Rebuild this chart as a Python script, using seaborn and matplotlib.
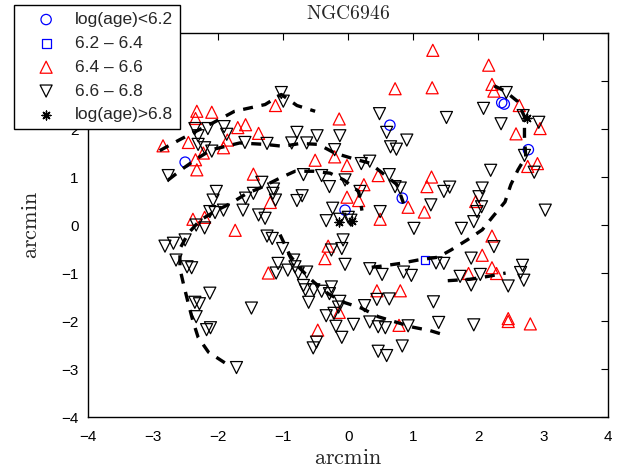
import matplotlib
matplotlib.use("Agg")
import matplotlib.pyplot as plt
import seaborn as sns
import numpy as np

# ---------------- data ----------------
# log(age) < 6.2  (blue circles)
c_x = [2.36, 2.40, 2.77, 0.64, -2.51, -0.05, 0.83]
c_y = [2.55, 2.52, 1.57, 2.08, 1.31, 0.31, 0.56]

# 6.2 - 6.4 (blue square)
s_x = [1.18]
s_y = [-0.73]

# 6.4 - 6.6 (red up-triangles)
u_x = [1.30, 0.72, 1.29, 2.16, 2.21, 2.24, 2.63, 2.95, 2.58, -1.12, -2.33, -2.10,
       -2.35, -1.70, -1.58, -0.14, -2.85, -2.46, -2.23, -1.92, -1.86, -1.38, -0.21,
       -2.35, -2.33, -0.51, -0.02, -1.46, -1.20, -2.39, -2.21, -1.74, 0.46, 0.24,
       -0.02, 0.16, 0.49, 0.92, 1.17, 1.28, 1.21, -0.31, -0.36, -1.23, 0.44, 0.80,
       -0.14, -0.47, 0.78, 2.76, 2.91, 1.96, 2.21, 2.06, 2.21, 1.85, 2.28, 2.46,
       2.46, 2.80]
u_y = [3.64, 2.84, 2.86, 3.33, 2.93, 2.79, 2.49, 2.01, 1.90, 2.49, 2.37, 2.35,
       2.22, 2.03, 2.09, 2.21, 1.65, 1.72, 1.50, 1.61, 1.77, 1.91, 1.42,
       1.36, 1.15, 1.35, 1.24, 1.06, 0.47, 0.12, 0.16, -0.11, 1.03, 0.84,
       0.58, 0.51, 0.12, 0.37, 0.27, 1.00, 0.80, -0.44, -0.70, -1.00, -1.37, -1.37,
       -1.82, -2.19, -2.09, 1.22, 1.28, 0.49, -0.23, -0.63, -0.89, -1.01, -1.01, -1.95,
       -2.01, -2.06]

# 6.6 - 6.8 (black down-triangles)
d_x = [-1.03, -1.00, -2.36, -2.16, -1.91, 0.48, 2.43, 2.08, 1.51, 2.35, 2.69, 2.93,
       2.71, -2.31, -2.31, -2.21, -2.10, -1.87, -1.59, -1.25, -0.87, -0.64, -0.48,
       -0.79, -0.13, -0.21, 0.59, 0.65, 0.74, 0.90, -2.77, 0.20, 0.33, -0.69, -0.41,
       -0.29, -0.05, -1.33, -1.15, -1.16, -1.12, -2.03, -2.08, -1.46, -1.58, -1.62,
       -1.38, -1.28, -0.79, -0.71, -2.13, -2.05, -1.92, -2.34, -2.21, 0.63, 0.18,
       -0.24, -0.34, -0.13, 0.00, 0.04, 0.49, 0.72, 0.80, 1.27, 1.47, 1.56, 1.01,
       1.74, -2.51, -2.69, -2.82, -2.65, -2.48, -2.41, -1.25, -1.17, -1.01, -0.26,
       -0.08, -0.10, -0.05, -0.84, -0.82, -0.93, -1.08, -1.11, -0.77, -0.64, -0.69,
       -0.66, -0.53, -0.41, -0.26, -0.29, -0.61, -2.13, -2.36, -2.29, -2.34, -2.18,
       -2.12, -1.49, -1.72, 0.33, 0.52, 1.35, 1.47, 0.85, 0.97, 1.72, 1.89, 1.89,
       0.44, 0.63, 1.31, -0.13, -0.15, -0.22, -0.34, 0.25, 0.08, -0.19, -0.10,
       -0.49, -0.54, 0.33, 0.46, 0.57, 0.92, 1.39, 0.83, 0.46, 0.59, 2.86, 2.19,
       2.06, 2.01, 2.05, 1.98, 1.93, 3.03, 2.24, 2.68, 2.03, 2.46, 2.65, 2.70, 1.93]
d_y = [2.76, 2.58, 2.01, 2.01, 2.05, 2.32, 2.76, 2.43, 2.24, 2.11, 2.28, 2.14,
       1.45, 1.86, 1.68, 1.61, 1.54, 1.89, 1.72, 1.70, 1.71, 1.71, 1.86,
       1.93, 1.86, 1.57, 1.93, 1.63, 1.58, 1.77, 1.03, 1.28, 1.33, 1.05, 1.03,
       0.80, 0.94, 0.89, 0.75, 0.66, 0.52, 0.70, 0.52, 0.66, 0.56, 0.31,
       0.21, 0.14, 0.51, 0.61, 0.28, 0.26, 0.31, 0.00, -0.06, 1.05, 0.70,
       0.35, 0.09, 0.12, 0.16, 0.10, 0.28, 0.80, 0.77, 0.42, 0.70, 0.79, -0.07,
       -0.07, -0.31, -0.38, -0.44, -0.73, -0.87, -0.89, -0.23, -0.28, -0.49, -0.52,
       -0.31, -0.49, -0.82, -0.73, -0.87, -0.94, -0.80, -1.00, -1.00, -0.98, -1.26,
       -1.35, -1.35, -1.38, -1.29, -1.43, -1.61, -1.42, -1.61, -1.64, -1.91, -2.18,
       -2.14, -1.73, -2.97, -0.91, -1.03, -0.79, -0.80, -0.98, -1.05, -1.07, -1.25, -0.69,
       -1.55, -1.54, -1.60, -1.59, -1.71, -1.84, -1.89, -1.68, -2.07, -2.11, -2.34,
       -2.44, -2.56, -2.02, -2.12, -2.14, -2.10, -2.03, -2.52, -2.63, -2.72, 1.10, 1.14,
       0.77, 0.59, 0.38, 0.28, 0.07, 0.31, -0.45, -0.84, -1.03, -1.27, -0.99, -1.15, -2.08]

# log(age) > 6.8 (asterisks)
a_x = [2.75, -0.15, 0.06]
a_y = [2.22, 0.07, 0.08]

# dashed spiral-arm tracings
armA_x = [-2.90, -2.82, -2.59, -2.39, -2.08, -1.75, -1.28, -1.03, -0.79, -0.51]
armA_y = [1.55, 1.61, 1.78, 1.92, 2.13, 2.37, 2.51, 2.72, 2.49, 2.37]
armB_x = [-2.77, -2.53, -2.31, -2.10, -1.67, -1.28, -1.00, -0.74, -0.46, -0.21, 0.08, 0.33, 0.49, 0.75, 0.85]
armB_y = [0.94, 1.19, 1.40, 1.57, 1.71, 1.68, 1.64, 1.70, 1.68, 1.50, 1.38, 1.29, 1.12, 0.84, 0.45]
armC_x = [-1.90, -2.15, -2.31, -2.39, -2.46, -2.53, -2.59, -2.59, -2.46, -2.28, -2.02, -1.81,
          -1.56, -1.36, -1.05, -0.82, -0.53, -0.28, -0.07, 0.16, 0.21]
armC_y = [-2.87, -2.65, -2.34, -2.00, -1.64, -1.26, -0.91, -0.49, -0.17, 0.10, 0.31, 0.45,
          0.66, 0.77, 0.98, 1.12, 1.12, 1.08, 0.94, 0.70, 0.30]
armD_x = [-1.05, -0.90, -0.74, -0.53, -0.31, -0.07, 0.20, 0.46, 0.75, 1.00, 1.26, 1.50]
armD_y = [-0.20, -0.63, -0.91, -1.19, -1.43, -1.61, -1.73, -1.91, -2.03, -2.13, -2.20, -2.30]
armE_x = [0.36, 0.49, 0.80, 1.07, 1.38, 1.58, 1.83, 2.06, 2.22, 2.41, 2.50, 2.61, 2.73, 2.71, 2.71, 2.60, 2.41, 2.14]
armE_y = [-0.88, -0.86, -0.80, -0.73, -0.67, -0.52, -0.31, -0.10, 0.17, 0.48, 0.84, 1.15, 1.42, 1.84, 2.26, 2.58, 2.79, 2.97]
armF_x = [1.53, 1.87, 2.15, 2.42]
armF_y = [-1.16, -1.13, -1.07, -1.00]

labels = ["log(age)<6.2", "6.2 \u2013 6.4", "6.4 \u2013 6.6", "6.6 \u2013 6.8", "log(age)>6.8"]
xticks = [-4, -3, -2, -1, 0, 1, 2, 3, 4]
yticks = [-4, -3, -2, -1, 0, 1, 2, 3, 4]
# y labels 3 and 4 sit behind the opaque legend in the reference
ytick_labels = ["\u22124", "\u22123", "\u22122", "\u22121", "0", "1", "2", "", ""]

# ---------------- style ----------------
sns.set_style("white")
plt.rcParams.update({
    "font.family": ["Liberation Sans", "DejaVu Sans"],
    "mathtext.fontset": "cm",
    "xtick.direction": "in",
    "ytick.direction": "in",
    "xtick.top": True,
    "ytick.right": True,
    "xtick.major.size": 5,
    "ytick.major.size": 5,
    "xtick.major.width": 0.8,
    "ytick.major.width": 0.8,
    "axes.edgecolor": "black",
    "axes.linewidth": 1.0,
})

fig = plt.figure(figsize=(6.35, 4.72), dpi=100)
ax = fig.add_axes([0.139, 0.1165, 0.819, 0.8135])

handles = {}
sns.scatterplot(x=c_x, y=c_y, marker="o", s=55, facecolors="none", edgecolor="blue",
                linewidth=0.9, ax=ax, zorder=2)
handles[labels[0]] = ax.collections[-1]
sns.scatterplot(x=s_x, y=s_y, marker="s", s=40, facecolors="none", edgecolor="blue",
                linewidth=0.9, ax=ax, zorder=2)
handles[labels[1]] = ax.collections[-1]
sns.scatterplot(x=u_x, y=u_y, marker="^", s=75, facecolors="none", edgecolor="red",
                linewidth=0.9, ax=ax, zorder=2)
handles[labels[2]] = ax.collections[-1]
sns.scatterplot(x=d_x, y=d_y, marker="v", s=75, facecolors="none", edgecolor="black",
                linewidth=0.9, ax=ax, zorder=2)
handles[labels[3]] = ax.collections[-1]
sns.scatterplot(x=a_x, y=a_y, marker=(8, 2, 0), s=40, color="black",
                linewidth=1.0, ax=ax, zorder=2)
handles[labels[4]] = ax.collections[-1]
for coll in ax.collections[:4]:
    coll.set_facecolor("none")

for ax_x, ax_y in [(armA_x, armA_y), (armB_x, armB_y), (armC_x, armC_y),
                   (armD_x, armD_y), (armE_x, armE_y), (armF_x, armF_y)]:
    sns.lineplot(x=ax_x, y=ax_y, sort=False, estimator=None, color="black",
                 linewidth=2.4, ax=ax, zorder=3)
    ax.lines[-1].set_dashes((3, 2.6))

ax.set_xlim(-4, 4)
ax.set_ylim(-4, 4)
ax.set_xticks(xticks)
ax.set_yticks(yticks)
ax.set_xticklabels([str(t).replace("-", "\u2212") for t in xticks], fontsize=11)
ax.set_yticklabels(ytick_labels, fontsize=11)
ax.tick_params(axis="x", which="major", pad=9, colors="black")
ax.tick_params(axis="y", which="major", pad=7, colors="black")
ax.set_title(r"$\mathrm{NGC6946}$", fontsize=14, pad=10)
ax.set_xlabel(r"$\mathrm{arcmin}$", fontsize=16, labelpad=3)
ax.set_ylabel(r"$\mathrm{arcmin}$", fontsize=16, labelpad=14)

leg = fig.legend([handles[l] for l in labels], labels, loc="upper left",
                 bbox_to_anchor=(14 / 635, 1 - 5 / 472), bbox_transform=fig.transFigure,
                 fontsize=12.5, frameon=True, fancybox=False, edgecolor="black",
                 framealpha=1, borderpad=0.4, labelspacing=0.5, handlelength=2.9,
                 handletextpad=0.2, borderaxespad=0, scatterpoints=1)
leg.get_frame().set_linewidth(1.0)
leg.set_zorder(10)

fig.savefig("out.png", dpi=100)
